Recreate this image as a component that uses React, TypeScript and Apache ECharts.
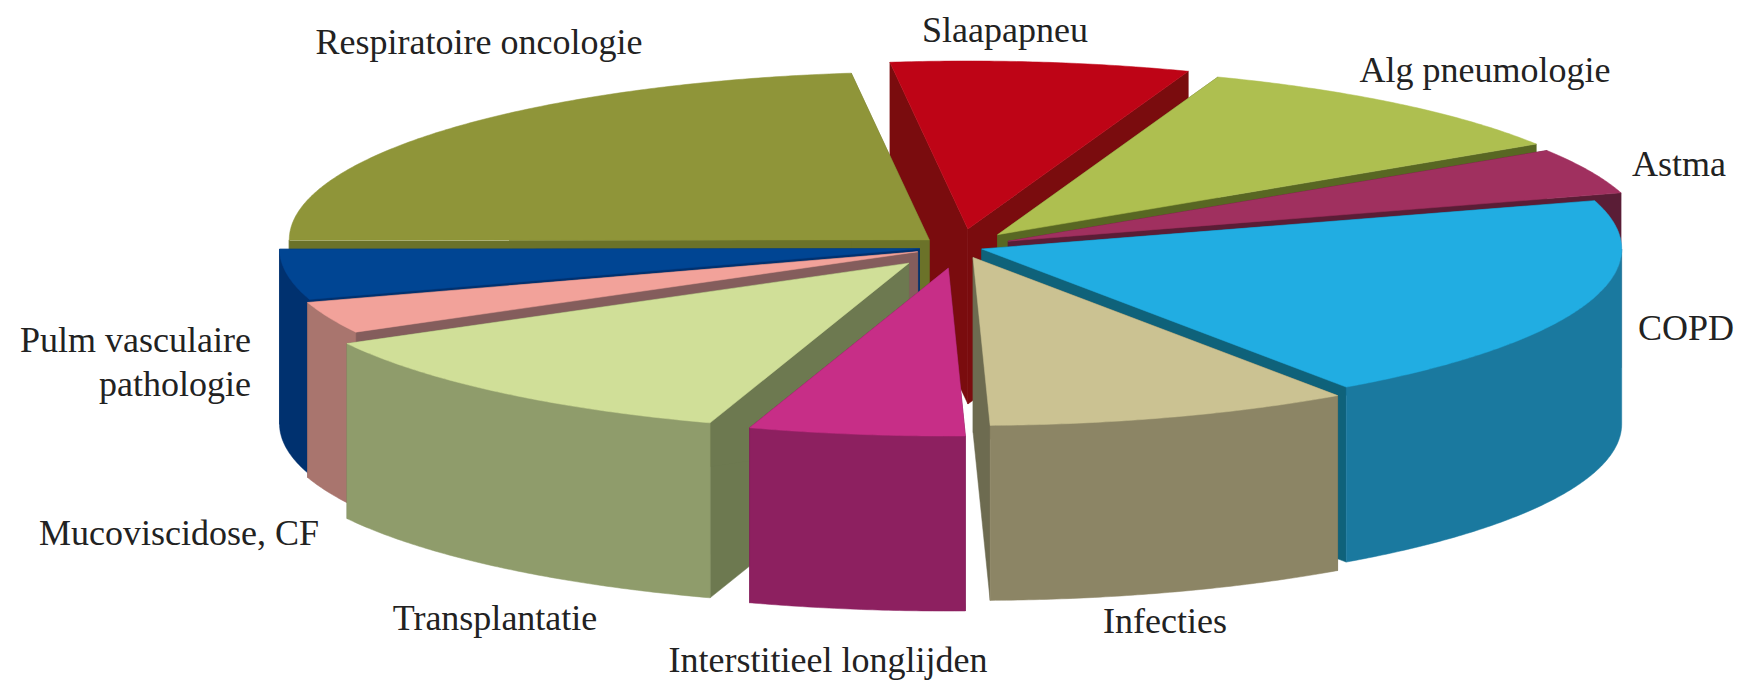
import React, { useEffect, useRef } from "react";
import * as echarts from "echarts";

const categories = [
  "Slaapapneu",
  "Alg pneumologie",
  "Astma",
  "COPD",
  "Infecties",
  "Interstitieel longlijden",
  "Transplantatie",
  "Mucoviscidose, CF",
  "Pulm vasculaire\npathologie",
  "Respiratoire oncologie",
];
const shares = [7.54, 10.33, 4.43, 20, 9.22, 5.45, 12.03, 3.06, 4.84, 23.1];

const explode = [69, 60, 53, 23, 42, 81, 80, 46, 41, 41];
const topColors = ["#BE0416", "#AEBF50", "#A0305F", "#21ADE2", "#CBC292", "#C72E87", "#D0DF98", "#F2A29A", "#004593", "#8F9539"];
const rimColors = ["#7A0C0E", "#586723", "#5A1D36", "#1A799F", "#8C8565", "#8D2060", "#8F9C6B", "#A9756E", "#00316F", "#6B7229"];
const cutColors = ["#7A0C0E", "#586723", "#5A1D36", "#0F627A", "#6D6B50", "#6E1A4C", "#6D7950", "#845D5C", "#00316F", "#6B7229"];
const drawOrder = [0, 1, 2, 3, 9, 8, 7, 6, 5, 4];
const labelAnchors: [number, number, string][] = [
  [1005, 30, "center"],
  [1485, 70, "center"],
  [1679, 164, "center"],
  [1686, 328, "center"],
  [1165, 621, "center"],
  [828, 660, "center"],
  [495, 618, "center"],
  [179, 533, "center"],
  [251, 362, "right"],
  [479, 42, "center"],
];

const CX = 960;
const CY = 247;
const RX = 640;
const RY = 168;
const DEPTH = 175;
const START_DEG = -97;

const total = shares.reduce((a, b) => a + b, 0);
const toRad = (d: number) => (d * Math.PI) / 180;

function sliceGeometry(index: number) {
  let before = 0;
  for (let i = 0; i < index; i++) before += shares[i];
  const t0 = START_DEG + (before / total) * 360;
  const t1 = t0 + (shares[index] / total) * 360;
  const mid = toRad((t0 + t1) / 2);
  const ax = CX + explode[index] * Math.cos(mid);
  const ay = CY + (explode[index] * RY * Math.sin(mid)) / RX;
  const at = (deg: number): number[] => [ax + RX * Math.cos(toRad(deg)), ay + RY * Math.sin(toRad(deg))];
  return { t0, t1, ax, ay, at };
}

function arcPoints(at: (d: number) => number[], from: number, to: number) {
  const n = Math.max(2, Math.ceil(Math.abs(to - from) * 2));
  const pts: number[][] = [];
  for (let k = 0; k <= n; k++) pts.push(at(from + ((to - from) * k) / n));
  return pts;
}

function poly(points: number[][], color: string) {
  return {
    type: "polygon",
    shape: { points },
    style: { fill: color, stroke: color, lineWidth: 0.5 },
  };
}

function renderSlice(_params: any, api: any) {
  const idx = api.value(0);
  const { t0, t1, ax, ay, at } = sliceGeometry(idx);
  const children: any[] = [];
  const down = (p: number[]) => [p[0], p[1] + DEPTH];
  const apex = [ax, ay];
  [t0, t1].forEach((t) => {
    const e = at(t);
    children.push(poly([apex, e, down(e), down(apex)], cutColors[idx]));
  });
  const frontFrom = Math.max(t0, 0);
  const frontTo = Math.min(t1, 180);
  if (frontTo > frontFrom) {
    const arc = arcPoints(at, frontFrom, frontTo);
    children.push(poly([...arc, ...arc.slice().reverse().map(down)], rimColors[idx]));
  }
  children.push(poly([apex, ...arcPoints(at, t0, t1)], topColors[idx]));
  return { type: "group", children };
}

export default function App() {
  const ref = useRef<HTMLDivElement>(null);
  useEffect(() => {
    if (!ref.current) return;
    const chart = echarts.init(ref.current, undefined, { renderer: "svg" });
    chart.setOption({
      animation: false,
      backgroundColor: "#ffffff",
      series: [
        {
          type: "custom",
          coordinateSystem: "none",
          silent: true,
          renderItem: renderSlice,
          data: drawOrder.map((i) => ({ name: categories[i], value: [i, shares[i]] })),
        },
      ],
      graphic: categories.map((name, i) => ({
        type: "text",
        x: labelAnchors[i][0],
        y: labelAnchors[i][1],
        silent: true,
        style: {
          text: name,
          fill: "#222222",
          font: '36px "Liberation Serif"',
          lineHeight: 44,
          align: labelAnchors[i][2],
          verticalAlign: "middle",
        },
      })),
    });
    return () => chart.dispose();
  }, []);
  return <div ref={ref} style={{ position: "fixed", left: 0, top: 0, width: 1741, height: 682 }} />;
}
